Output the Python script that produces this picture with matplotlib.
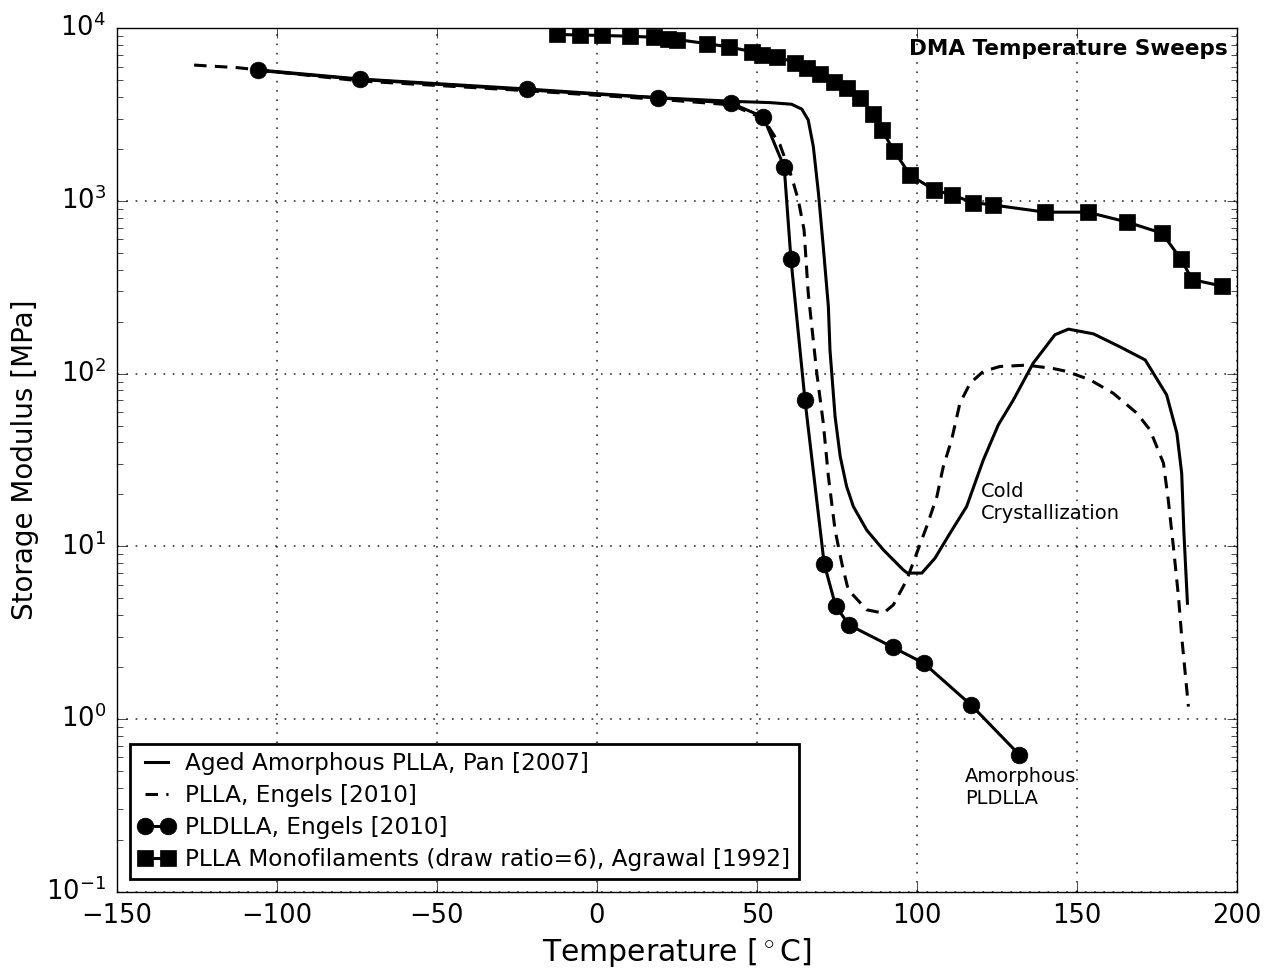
import numpy as np
import matplotlib
matplotlib.use('Agg')
import matplotlib.pyplot as plt

plt.style.use('classic')
plt.rcParams['figure.facecolor'] = 'white'
plt.rcParams['font.family'] = ['DejaVu Sans']

# Aged amorphous PLLA, Pan [2007]
pan_T = [-106, -74, -22, 0, 20, 44.7, 54.1, 60.8, 64.0, 66.0, 67.6, 69.2, 70.7, 72.3,
         72.8, 74.4, 76.0, 78.0, 80.1, 84.3, 89.5, 95.7, 97.0, 101.5, 105.6, 110.3,
         115.5, 120.7, 125.4, 130.1, 136.3, 143.1, 147.3, 155.1, 163.4, 171.3, 178.0,
         181.2, 182.7, 183.4, 184.5]
pan_E = [5700, 5050, 4400, 4150, 3950, 3760, 3710, 3630, 3400, 2944, 2063, 1108, 544, 244,
         137, 56.3, 33.1, 22.2, 17.0, 12.4, 9.53, 7.3, 7.0, 7.0, 8.53, 11.9,
         17.0, 31.6, 50.5, 70.4, 115, 168, 181, 170, 143, 120, 75.3,
         45.2, 26.5, 11.9, 4.68]

# PLLA, Engels [2010]
engels_T = [-125.9, -112.2, -74, -22, 19, 42, 52, 57.2, 60.8, 62.9, 64.7, 66.0, 68.7,
            70.7, 72.3, 74.4, 76.5, 78.5, 84.3, 89.5, 92.6, 96.8, 99.9, 103.0, 106.2,
            108.2, 110.8, 113.4, 116.6, 120.7, 125.9, 134.3, 142.6, 146.8, 154.1,
            161.3, 168.7, 172.8, 177.0, 178.5, 180.1, 181.7, 182.7, 184.8]
engels_E = [6120, 5910, 4950, 4350, 3880, 3600, 3000, 2110, 1380, 1013, 680, 293, 100,
            51.9, 25.4, 12.4, 7.98, 5.6, 4.29, 4.10, 4.58, 6.39, 9.12, 13.0, 19.4,
            28.9, 41.3, 67.4, 88, 103, 110, 112, 107, 103, 92,
            77, 59, 47.2, 30.3, 18.6, 9.96, 5.11, 3.0, 1.18]

# PLDLLA, Engels [2010]
pldlla_T = [-106, -74, -22, 19, 42, 52, 58.5, 60.6, 65, 71, 74.6, 78.8, 92.5, 102.2, 117, 132]
pldlla_E = [5740, 5080, 4450, 3960, 3680, 3060, 1570, 461, 70, 7.9, 4.5, 3.5, 2.6, 2.1, 1.2, 0.62]

# PLLA monofilaments (draw ratio=6), Agrawal [1992]
agr_T = [-12.5, -5.3, 1.7, 10.3, 17.8, 22.2, 25.0, 34.3, 41.1, 48.3, 51.7, 56.3, 61.9,
         65.5, 69.7, 74.2, 78.1, 82.2, 86.3, 89.1, 92.8, 97.9, 105.3, 110.9, 117.6,
         123.6, 140.1, 153.3, 165.6, 176.6, 182.5, 186.0, 195.2]
agr_E = [9205, 9140, 9080, 8990, 8870, 8710, 8600, 8150, 7800, 7330, 7040, 6830, 6330,
         5900, 5420, 4910, 4500, 3940, 3200, 2560, 1950, 1410, 1160, 1083, 978,
         948, 861, 861, 755, 650, 459, 350, 322]

fig = plt.figure(figsize=(12.74, 9.74), dpi=100)
ax = fig.add_axes([0.0918, 0.0845, 0.8792, 0.8865])

ax.semilogy(pan_T, pan_E, 'k-', lw=2.2, label='Aged Amorphous PLLA, Pan [2007]')
ax.semilogy(engels_T, engels_E, 'k', lw=2.2, dashes=(9, 6), label='PLLA, Engels [2010]')
ax.semilogy(pldlla_T, pldlla_E, 'k-o', lw=2.2, ms=12, mec='k',
            label='PLDLLA, Engels [2010]')
ax.semilogy(agr_T, agr_E, 'k-s', lw=2.2, ms=12, mec='k',
            label='PLLA Monofilaments (draw ratio=6), Agrawal [1992]')

ax.set_xlim(-150, 200)
ax.set_ylim(0.1, 1e4)
ax.grid(True, which='major', color='k', lw=1.2, linestyle=(0, (1.2, 5.5)), alpha=0.8)
ax.tick_params(which='major', length=7, labelsize=18.5, pad=8)
ax.tick_params(which='minor', length=4)

ax.set_xlabel(r'Temperature [$^\circ$C]', fontsize=21.5)
ax.set_ylabel('Storage Modulus [MPa]', fontsize=20)

ax.text(0.992, 0.988, 'DMA Temperature Sweeps', transform=ax.transAxes,
        ha='right', va='top', fontsize=15.5, fontweight='bold')
ax.text(120, 18, 'Cold\nCrystallization', fontsize=14, ha='left', va='center')
ax.text(115, 0.40, 'Amorphous\nPLDLLA', fontsize=14, ha='left', va='center')

leg = ax.legend(loc='lower left', fontsize=16.7, numpoints=2, handlelength=1.6,
                handletextpad=0.45, borderaxespad=0.55, labelspacing=0.38,
                borderpad=0.35)
leg.get_frame().set_linewidth(2)

fig.savefig('out.png', dpi=100, facecolor='white')
